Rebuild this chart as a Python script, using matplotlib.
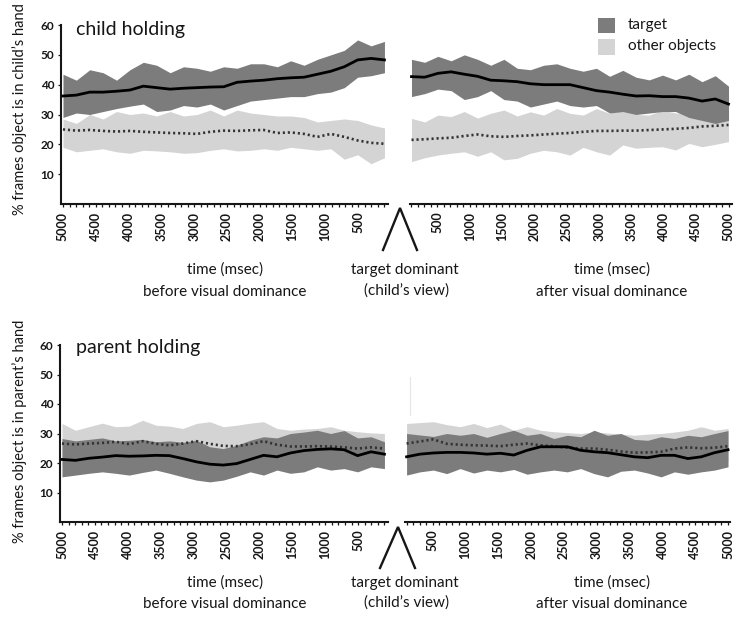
import numpy as np
import matplotlib.pyplot as plt
from matplotlib.lines import Line2D
from matplotlib.patches import Rectangle
from matplotlib.ticker import MultipleLocator, FixedLocator

plt.rcParams['font.family'] = ['Lato', 'DejaVu Sans']

# time grid (msec) before / after visual dominance
t_before = np.linspace(5000, 100, 25)
t_after = np.linspace(100, 5000, 25)

# ---- child holding, before ----
ch_pre_target = [36.2, 36.5, 37.5, 37.5, 37.8, 38.2, 39.5, 39.0, 38.5, 38.8, 39.0, 39.2, 39.3,
                 40.8, 41.2, 41.5, 42.0, 42.3, 42.5, 43.5, 44.5, 46.0, 48.3, 48.8, 48.3]
ch_pre_target_hi = [43.5, 41.5, 45.0, 44.0, 41.5, 45.0, 47.5, 46.5, 44.0, 46.0, 45.5, 44.5, 46.0,
                    45.5, 47.0, 47.0, 46.0, 48.0, 46.5, 48.5, 50.0, 51.5, 55.0, 53.0, 54.5]
ch_pre_target_lo = [29.0, 30.5, 30.0, 31.0, 32.0, 32.8, 33.5, 31.0, 31.5, 33.0, 32.5, 33.5, 31.5,
                    33.0, 34.5, 35.0, 35.5, 36.0, 36.0, 37.0, 37.5, 39.0, 42.5, 43.0, 44.0]
ch_pre_other = [25.0, 24.6, 24.8, 24.5, 24.3, 24.5, 24.2, 24.0, 23.8, 23.7, 23.5, 24.2, 24.6,
                24.5, 24.7, 24.8, 23.8, 24.0, 23.5, 22.5, 23.5, 22.5, 21.3, 20.5, 20.2]
ch_pre_other_hi = [28.5, 27.0, 30.0, 28.5, 31.0, 30.0, 30.5, 29.5, 31.0, 29.5, 30.0, 31.5, 29.5,
                   31.5, 30.5, 30.0, 29.5, 29.5, 29.0, 27.5, 28.0, 28.5, 28.0, 26.5, 25.5]
ch_pre_other_lo = [19.0, 17.5, 18.0, 18.5, 17.5, 17.0, 18.0, 17.8, 17.5, 17.0, 17.2, 18.0, 18.5,
                   17.8, 18.0, 18.5, 18.0, 19.0, 18.5, 18.0, 18.5, 15.0, 16.5, 13.5, 15.5]

# ---- child holding, after ----
ch_post_target = [42.7, 42.5, 43.8, 44.3, 43.5, 42.8, 41.5, 41.3, 41.0, 40.3, 40.0, 40.0, 40.0,
                  39.0, 38.0, 37.5, 36.8, 36.2, 36.3, 36.0, 36.0, 35.5, 34.5, 35.2, 33.5]
ch_post_target_hi = [48.5, 47.5, 49.5, 48.0, 50.0, 48.5, 46.5, 48.5, 45.5, 45.0, 46.5, 47.0, 45.5,
                     44.5, 45.5, 42.8, 44.8, 42.5, 41.6, 43.2, 41.6, 43.5, 41.0, 43.0, 39.5]
ch_post_target_lo = [36.0, 37.0, 38.5, 38.0, 35.0, 36.0, 38.0, 35.0, 34.5, 32.5, 33.5, 34.5, 33.0,
                     32.5, 33.0, 30.5, 31.0, 30.0, 30.5, 31.0, 31.0, 29.0, 28.0, 27.0, 28.0]
ch_post_other = [21.5, 21.7, 22.0, 22.2, 22.8, 23.3, 22.7, 22.5, 22.8, 23.0, 23.3, 23.6, 23.8,
                 24.2, 24.5, 24.5, 24.6, 24.6, 24.8, 25.0, 25.2, 25.5, 26.0, 26.2, 26.5]
ch_post_other_hi = [28.7, 27.5, 29.8, 29.3, 31.0, 28.8, 30.4, 31.5, 29.5, 30.9, 29.8, 32.0, 30.4,
                    29.8, 32.0, 30.4, 32.5, 30.0, 29.8, 31.5, 30.5, 30.4, 31.0, 30.5, 30.4]
ch_post_other_lo = [14.2, 15.5, 16.4, 17.0, 17.5, 16.0, 17.5, 14.8, 15.3, 17.0, 18.0, 17.5, 16.4,
                    19.0, 17.5, 16.4, 19.8, 18.7, 19.0, 19.2, 18.1, 20.3, 19.2, 20.0, 20.9]

# ---- parent holding, before ----
pa_pre_target = [21.2, 20.9, 21.6, 22.0, 22.5, 22.3, 22.4, 22.6, 22.5, 21.5, 20.4, 19.6, 19.3,
                 19.8, 21.2, 22.6, 22.1, 23.4, 24.2, 24.6, 24.8, 24.5, 22.5, 23.8, 23.0]
pa_pre_target_hi = [28.3, 27.5, 28.0, 28.5, 27.5, 27.7, 28.0, 27.2, 27.5, 27.0, 27.7, 25.5, 24.9,
                    26.0, 27.7, 28.9, 28.5, 30.0, 30.5, 31.1, 30.0, 31.0, 28.5, 28.9, 27.2]
pa_pre_target_lo = [15.3, 15.9, 16.5, 17.0, 16.5, 15.9, 16.8, 17.6, 16.5, 15.3, 14.2, 13.6, 14.2,
                    15.5, 17.0, 15.9, 17.6, 16.5, 17.0, 18.7, 17.6, 18.1, 17.0, 18.7, 18.1]
pa_pre_other = [26.6, 26.3, 26.6, 26.8, 27.2, 26.4, 27.4, 26.5, 26.0, 26.6, 27.4, 26.5, 25.8,
                25.7, 26.4, 27.4, 26.2, 25.6, 25.6, 25.7, 25.6, 25.3, 24.9, 25.3, 24.9]
pa_pre_other_hi = [33.4, 31.1, 32.3, 33.5, 32.3, 32.5, 34.5, 32.8, 32.5, 31.7, 33.4, 34.0, 32.3,
                   32.8, 33.5, 34.0, 31.7, 31.1, 31.5, 31.7, 32.3, 31.1, 30.6, 30.2, 30.0]
pa_pre_other_lo = [19.5, 20.0, 20.5, 20.0, 19.5, 19.0, 20.0, 20.5, 20.0, 19.5, 19.0, 18.5, 19.0,
                   19.5, 20.5, 20.0, 20.5, 20.0, 20.5, 21.0, 20.5, 20.0, 20.5, 21.0, 20.5]

# ---- parent holding, after ----
pa_post_target = [22.1, 23.0, 23.4, 23.6, 23.6, 23.4, 23.0, 23.3, 22.7, 24.3, 25.5, 25.5, 25.5,
                  24.3, 23.8, 23.5, 22.8, 22.1, 21.8, 22.6, 22.6, 21.5, 22.1, 23.5, 24.5]
pa_post_target_hi = [30.0, 29.5, 29.0, 30.0, 29.4, 30.0, 28.7, 30.0, 31.1, 29.4, 30.0, 28.3, 29.4,
                     28.9, 31.1, 29.4, 30.0, 28.0, 27.7, 28.9, 28.3, 29.4, 28.9, 30.0, 31.0]
pa_post_target_lo = [15.9, 17.0, 17.6, 16.4, 18.1, 16.6, 17.6, 17.0, 17.8, 16.2, 17.0, 17.6, 17.0,
                     18.1, 16.4, 15.3, 17.2, 17.6, 16.6, 15.3, 17.0, 16.2, 17.0, 17.6, 18.7]
pa_post_other = [26.6, 27.3, 28.0, 26.5, 26.2, 26.0, 25.9, 25.7, 26.2, 26.6, 26.0, 25.7, 25.2,
                 24.9, 24.9, 24.5, 23.9, 23.5, 23.6, 23.8, 24.9, 25.3, 25.0, 25.2, 25.7]
pa_post_other_hi = [33.4, 33.7, 34.0, 33.0, 32.3, 33.4, 32.0, 33.2, 31.1, 32.3, 31.1, 30.6, 30.3,
                    30.0, 30.5, 30.2, 29.8, 29.4, 29.8, 30.0, 30.5, 31.1, 32.3, 31.1, 31.7]
pa_post_other_lo = [20.0, 20.5, 19.5, 20.0, 20.5, 20.0, 19.5, 20.0, 19.0, 18.5, 19.5, 20.0, 20.5,
                    20.0, 19.5, 20.0, 20.5, 20.0, 19.5, 20.0, 20.5, 20.0, 19.5, 20.0, 20.5]

DARK = '#7c7c7c'
LIGHT = '#d4d4d4'
INK = '#161616'

W, H = 739, 618
fig = plt.figure(figsize=(W / 100, H / 100), dpi=100)


def px_axes(x0, x1, ytop, ybot):
    return fig.add_axes([x0 / W, 1 - ybot / H, (x1 - x0) / W, (ybot - ytop) / H])


def draw_panel(ax, t, target, t_hi, t_lo, other, o_hi, o_lo, xlim, ticks, show_y):
    ax.fill_between(t, o_lo, o_hi, color=LIGHT, lw=0, zorder=1)
    ax.fill_between(t, t_lo, t_hi, color=DARK, lw=0, zorder=2)
    ax.plot(t, other, color='#333333', lw=1.9, ls=(0, (0.8, 1.1)), zorder=3)
    ax.plot(t, target, color='black', lw=2.0, zorder=4)
    ax.set_xlim(*xlim)
    ax.set_ylim(0, 60)
    ax.xaxis.set_major_locator(FixedLocator(ticks))
    ax.xaxis.set_minor_locator(MultipleLocator(100))
    ax.set_xticklabels([str(v) for v in ticks], rotation=90, fontsize=9,
                       fontweight='bold', color=INK)
    ax.tick_params(axis='x', which='both', direction='out', length=2.5, width=0.9,
                   color=INK, pad=3)
    for s in ('top', 'right'):
        ax.spines[s].set_visible(False)
    ax.spines['bottom'].set_linewidth(1.5)
    ax.spines['bottom'].set_color(INK)
    if show_y:
        ax.spines['left'].set_linewidth(1.5)
        ax.spines['left'].set_color(INK)
        ax.set_yticks([10, 20, 30, 40, 50, 60])
        ax.set_yticklabels(['10', '20', '30', '40', '50', '60'], fontsize=8.5,
                           fontweight='bold', color=INK)
        ax.tick_params(axis='y', direction='out', length=2, width=0.9, color=INK, pad=3)
    else:
        ax.spines['left'].set_visible(False)
        ax.set_yticks([])
    ax.patch.set_alpha(0)


ticks_pre = [5000, 4500, 4000, 3500, 3000, 2500, 2000, 1500, 1000, 500]
ticks_post = [500, 1000, 1500, 2000, 2500, 3000, 3500, 4000, 4500, 5000]

ax1 = px_axes(61, 388, 25, 204)
draw_panel(ax1, t_before, ch_pre_target, ch_pre_target_hi, ch_pre_target_lo,
           ch_pre_other, ch_pre_other_hi, ch_pre_other_lo, (5030, 46), ticks_pre, True)
ax2 = px_axes(410, 732, 25, 204)
draw_panel(ax2, t_after, ch_post_target, ch_post_target_hi, ch_post_target_lo,
           ch_post_other, ch_post_other_hi, ch_post_other_lo, (77, 5054), ticks_post, False)
ax3 = px_axes(60, 388, 345, 522)
draw_panel(ax3, t_before, pa_pre_target, pa_pre_target_hi, pa_pre_target_lo,
           pa_pre_other, pa_pre_other_hi, pa_pre_other_lo, (5030, 46), ticks_pre, True)
ax4 = px_axes(405, 730, 345, 522)
draw_panel(ax4, t_after, pa_post_target, pa_post_target_hi, pa_post_target_lo,
           pa_post_other, pa_post_other_hi, pa_post_other_lo, (76, 5030), ticks_post, False)


def ftext(x, y, s, **kw):
    fig.text(x / W, 1 - y / H, s, color=INK, **kw)


# panel titles and y labels
ftext(76, 30, 'child holding', fontsize=14, va='center', ha='left')
ftext(76, 347, 'parent holding', fontsize=14, va='center', ha='left')
ftext(20, 109, "% frames object is in child\u2019s hand", rotation=90, fontsize=10.5,
      va='center', ha='center')
ftext(20, 431, "% frames object is in parent\u2019s hand", rotation=90, fontsize=10.5,
      va='center', ha='center')

# x labels under each row
for y1, y2 in ((270, 292), (583, 604)):
    ftext(225, y1, 'time (msec)', fontsize=11, ha='center', va='center')
    ftext(225, y2, 'before visual dominance', fontsize=11, ha='center', va='center')
    ftext(405, y1, 'target dominant', fontsize=11, ha='center', va='center')
    ftext(407, y2 - 1, '(child\u2019s view)', fontsize=11, ha='center', va='center')
    ftext(612, y1, 'time (msec)', fontsize=11, ha='center', va='center')
    ftext(612, y2, 'after visual dominance', fontsize=11, ha='center', va='center')

# dominance markers between the panels
for (xa, ya), (xb, yb), (xc, yc) in (((383, 250), (400, 208), (417, 250)),
                                     ((380, 568), (398, 527), (415, 568))):
    fig.add_artist(Line2D([xa / W, xb / W, xc / W], [1 - ya / H, 1 - yb / H, 1 - yc / H],
                          color=INK, lw=1.7, solid_joinstyle='miter'))

# faint edge in the lower right panel
fig.add_artist(Line2D([410 / W, 410 / W], [1 - 377 / H, 1 - 415 / H], color='#e6e6e6', lw=0.8))

# legend
fig.add_artist(Rectangle((598 / W, 1 - 33 / H), 17 / W, 15 / H, color=DARK, lw=0,
                         transform=fig.transFigure))
fig.add_artist(Rectangle((598 / W, 1 - 55 / H), 17 / W, 16 / H, color=LIGHT, lw=0,
                         transform=fig.transFigure))
ftext(628, 25, 'target', fontsize=11, va='center', ha='left')
ftext(628, 46, 'other objects', fontsize=11, va='center', ha='left')

fig.savefig('out.png', dpi=100)
